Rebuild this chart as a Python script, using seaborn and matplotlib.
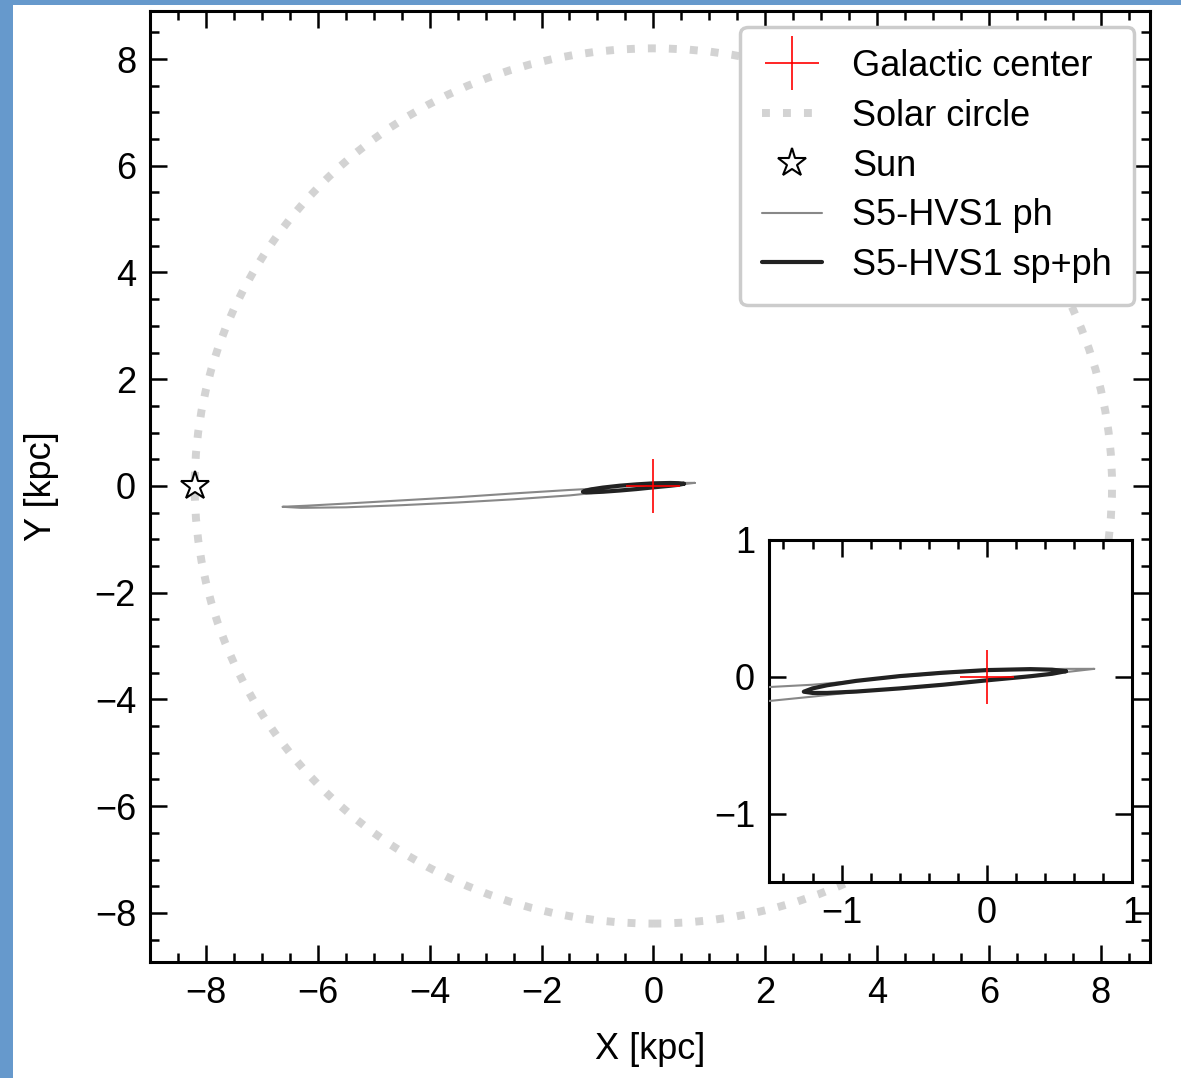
import numpy as np
import pandas as pd
import matplotlib
matplotlib.use("Agg")
import matplotlib.pyplot as plt
from matplotlib.patches import Circle, Rectangle
from matplotlib.lines import Line2D
from matplotlib.ticker import MultipleLocator, NullLocator
import seaborn as sns

# ---------------- data ----------------
R_SUN = 8.2
sun_x = [-8.2]
sun_y = [0.0]
gc_x = [0.0]
gc_y = [0.0]

# S5-HVS1 orbit, photometric distance only
ph_x = [0.74, 0.55, 0.30, 0.00, -0.30, -0.60, -0.90, -1.20, -1.50, -2.50, -3.50,
        -4.50, -5.50, -6.20, -6.63, -6.30, -5.50, -4.50, -3.50, -2.50, -1.50,
        -1.20, -0.90, -0.60, -0.30, 0.00, 0.30, 0.55, 0.74]
ph_y = [0.058, 0.058, 0.054, 0.045, 0.025, 0.000, -0.030, -0.058, -0.075, -0.140,
        -0.210, -0.270, -0.330, -0.370, -0.390, -0.410, -0.400, -0.360, -0.310,
        -0.250, -0.177, -0.145, -0.110, -0.083, -0.055, -0.024, 0.008, 0.035, 0.058]

# S5-HVS1 orbit, spectro + photometric distance
spph_x = [0.545, 0.45, 0.30, 0.00, -0.30, -0.60, -0.90, -1.10, -1.20, -1.26,
          -1.20, -1.10, -0.90, -0.60, -0.30, 0.00, 0.30, 0.45, 0.545]
spph_y = [0.041, 0.052, 0.056, 0.049, 0.030, 0.005, -0.030, -0.062, -0.085, -0.109,
          -0.118, -0.118, -0.108, -0.085, -0.058, -0.026, 0.004, 0.022, 0.041]

FS = 26

sns.set_style("ticks")
plt.rcParams["font.family"] = ["Liberation Sans", "DejaVu Sans"]
plt.rcParams["text.color"] = "black"
plt.rcParams["axes.labelcolor"] = "black"
plt.rcParams["xtick.color"] = "black"
plt.rcParams["ytick.color"] = "black"

fig = plt.figure(figsize=(11.81, 10.78), dpi=100)
fig.patch.set_facecolor("#6699cc")
fig.add_artist(Rectangle((13 / 1181, 0), 1 - 13 / 1181, 1 - 5 / 1078,
                         transform=fig.transFigure, facecolor="white",
                         edgecolor="none", zorder=-10))


def draw_content(ax):
    sns.lineplot(x=ph_x, y=ph_y, sort=False, estimator=None, color="#888888",
                 lw=1.5, ax=ax, zorder=3)
    sns.lineplot(x=spph_x, y=spph_y, sort=False, estimator=None, color="#222222",
                 lw=3.0, ax=ax, zorder=4)
    ax.plot(gc_x, gc_y, marker="+", ms=39, mew=1.2, color="red", ls="none", zorder=6)


def style_axes(ax, major, minor_x, minor_y):
    ax.xaxis.set_major_locator(MultipleLocator(major))
    ax.yaxis.set_major_locator(MultipleLocator(major))
    ax.xaxis.set_minor_locator(MultipleLocator(minor_x) if minor_x else NullLocator())
    ax.yaxis.set_minor_locator(MultipleLocator(minor_y) if minor_y else NullLocator())
    ax.tick_params(which="both", direction="in", top=True, right=True,
                   labelsize=FS, width=1.8, color="black", labelcolor="black")
    ax.tick_params(which="major", length=12, pad=10)
    ax.tick_params(which="minor", length=6.5)
    for s in ax.spines.values():
        s.set_linewidth(2.2)
        s.set_color("black")
        s.set_visible(True)


# ---------------- main axes ----------------
ax = fig.add_axes([0.127, 0.1076, 0.8468, 0.8822])
ax.add_patch(Circle((0, 0), R_SUN, fill=False, ec="#d3d3d3", lw=5.7, ls=":", zorder=2))
draw_content(ax)
ax.plot(sun_x, sun_y, marker="*", ms=21, mfc="white", mec="black", mew=1.5,
        ls="none", zorder=6)
ax.set_xlim(-9.0, 8.88)
ax.set_ylim(-8.92, 8.9)
style_axes(ax, 2, 0.5, 0.5)
ax.set_xlabel("X [kpc]", fontsize=FS, labelpad=15)
ax.set_ylabel("Y [kpc]", fontsize=FS, labelpad=26)

handles = [
    Line2D([], [], marker="+", ms=39, mew=1.2, color="red", ls="none"),
    Line2D([], [], color="#d3d3d3", lw=5.7, ls=":"),
    Line2D([], [], marker="*", ms=21, mfc="white", mec="black", mew=1.5, ls="none"),
    Line2D([], [], color="#888888", lw=1.5),
    Line2D([], [], color="#222222", lw=3.0),
]
labels = ["Galactic center", "Solar circle", "Sun", "S5-HVS1 ph", "S5-HVS1 sp+ph"]
leg = ax.legend(handles, labels, loc="upper right", fontsize=FS, frameon=True,
                fancybox=True, framealpha=1, edgecolor="#cccccc",
                handlelength=1.65, handletextpad=0.85, labelspacing=0.41,
                borderaxespad=0.45, borderpad=0.6)
leg.get_frame().set_linewidth(2.5)

# ---------------- inset ----------------
axins = fig.add_axes([0.6511, 0.1818, 0.3074, 0.3173])
axins.set_facecolor("white")
draw_content(axins)
axins.set_xlim(-1.5, 1.0)
axins.set_ylim(-1.5, 1.0)
style_axes(axins, 1, 0.2, None)
axins.set_xlabel("")
axins.set_ylabel("")

fig.savefig("out.png", dpi=100, facecolor=fig.get_facecolor())
